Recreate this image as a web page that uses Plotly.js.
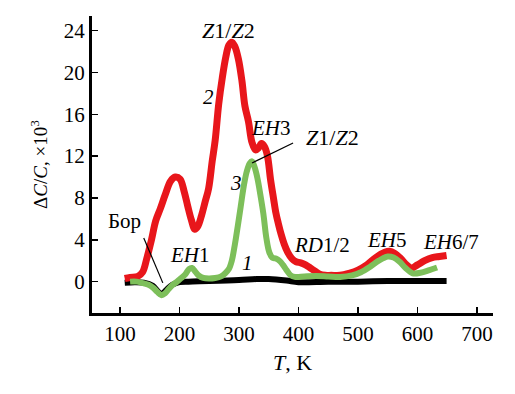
<!DOCTYPE html>
<html>
<head>
<meta charset="utf-8">
<script src="https://cdn.plot.ly/plotly-3.0.1.min.js"></script>
<style>html,body{margin:0;padding:0;background:#fff;}#chart{width:515px;height:394px;}</style>
</head>
<body>
<div id="chart"></div>
<script>
// Curve 1 (black)
const T1 = [108,125,140,155,163,170,178,188,200,215,250,300,330,350,380,400,450,500,550,600,649];
const V1 = [-0.1,-0.05,-0.1,-0.4,-0.9,-1.2,-0.8,-0.3,-0.05,0,0.05,0.15,0.25,0.25,0.1,-0.05,0,0,0.05,0.05,0.05];

// Curve 2 (red)
const T2 = [108,117,130,138,145,153,160,168,176,185,193,201,208,214,220,226,231,237,243,249,255,260,266,272,278,283,288,293,299,305,310,316,322,328,333,338,343,348,353,358,362,366,371,376,382,389,396,404,412,420,428,436,445,455,470,485,500,515,530,545,553,562,572,582,590,600,612,625,637,649];
const V2 = [0.3,0.4,0.5,0.9,2.2,4.0,5.8,7.0,8.3,9.6,10.0,9.8,8.6,7.2,5.9,5.0,5.3,6.3,7.6,8.9,11.5,13.5,17.0,19.5,21.5,22.6,22.9,22.5,21.3,19.2,16.8,15.3,13.3,12.6,12.8,13.2,12.9,12.0,9.8,8.0,6.6,5.6,4.5,3.6,2.8,2.2,1.9,1.8,1.6,1.3,1.0,0.7,0.6,0.6,0.6,0.8,1.1,1.6,2.3,2.8,2.9,2.7,2.2,1.6,1.3,1.6,2.0,2.3,2.4,2.5];

// Curve 3 (green)
const T3 = [117,128,139,148,156,163,170,176,182,189,196,203,210,216,221,226,232,240,250,260,270,277,283,288,293,298,303,308,313,318,322,326,331,336,341,346,351,356,362,368,374,380,387,395,410,430,450,470,490,505,520,535,550,560,570,580,592,605,620,633];
const V3 = [0,0,-0.15,-0.3,-0.6,-1.0,-1.3,-1.1,-0.7,-0.3,0,0.35,0.7,1.2,1.3,1.0,0.6,0.35,0.3,0.35,0.5,0.8,1.2,2.0,3.5,5.3,7.2,9.1,10.5,11.3,11.5,11.0,9.9,8.3,6.5,4.2,2.8,2.3,2.2,2.0,1.6,1.1,0.6,0.45,0.5,0.55,0.5,0.45,0.6,0.9,1.4,2.0,2.4,2.3,1.9,1.3,0.8,0.85,1.1,1.35];

const xTicks = [100,200,300,400,500,600,700];
const yTicks = [0,4,8,12,16,20,24];

const FONT = 'Liberation Serif, Times New Roman, serif';

const traces = [
  {x:T1, y:V1, mode:'lines', line:{color:'#000000', width:6, shape:'spline', smoothing:1}, hoverinfo:'skip'},
  {x:T2, y:V2, mode:'lines', line:{color:'#e8161b', width:7, shape:'spline', smoothing:1}, hoverinfo:'skip'},
  {x:T3, y:V3, mode:'lines', line:{color:'#7dbf5a', width:6, shape:'spline', smoothing:1}, hoverinfo:'skip'}
];

function ann(x, y, text, size) {
  return {x:x, y:y, xref:'x', yref:'y', text:text, showarrow:false,
          font:{family:FONT, size:size||21, color:'#000'}, xanchor:'center', yanchor:'middle'};
}

const layout = {
  width:515, height:394,
  margin:{l:92, r:22, t:16, b:81},
  paper_bgcolor:'#fff', plot_bgcolor:'#fff',
  showlegend:false,
  font:{family:FONT, color:'#000'},
  xaxis:{
    range:[53,727], tickvals:xTicks, ticktext:xTicks.map(String),
    showgrid:false, zeroline:false, showline:true, linewidth:3, linecolor:'#000',
    ticks:'inside', ticklen:6, tickwidth:1.5, tickcolor:'#000',
    tickfont:{family:FONT, size:21, color:'#000'},
    title:{text:'<i>T</i>, K', font:{family:FONT, size:22, color:'#000'}, standoff:10}
  },
  yaxis:{
    range:[-3,25.4], tickvals:yTicks, ticktext:yTicks.map(String),
    showgrid:false, zeroline:false, showline:true, linewidth:3, linecolor:'#000',
    ticks:'inside', ticklen:6, tickwidth:1.5, tickcolor:'#000',
    tickfont:{family:FONT, size:21, color:'#000'},
    title:{text:'Δ<i>C</i>/<i>C</i>, ×10<sup>3</sup>', font:{family:FONT, size:19, color:'#000'}, standoff:12}
  },
  annotations:[
    ann(283, 24.0, '<i>Z</i>1/<i>Z</i>2', 22),
    ann(248, 17.7, '<i>2</i>', 21),
    ann(354, 14.7, '<i>EH</i>3', 21),
    ann(458, 13.8, '<i>Z</i>1/<i>Z</i>2', 22),
    ann(295, 9.4, '<i>3</i>', 21),
    ann(108, 5.8, 'Бор', 21),
    ann(218, 2.55, '<i>EH</i>1', 21),
    ann(315, 1.8, '<i>1</i>', 21),
    ann(440, 3.5, '<i>RD</i>1/2', 21),
    ann(549, 4.0, '<i>EH</i>5', 21),
    ann(657, 3.8, '<i>EH</i>6/7', 21)
  ],
  shapes:[
    {type:'line', xref:'x', yref:'y', x0:140, y0:4.18, x1:172, y1:-0.12, line:{color:'#000', width:1.2}},
    {type:'line', xref:'x', yref:'y', x0:391, y0:13.26, x1:322, y1:11.35, line:{color:'#000', width:1.2}}
  ]
};

Plotly.newPlot('chart', traces, layout, {displayModeBar:false, staticPlot:true});
</script>
</body>
</html>
